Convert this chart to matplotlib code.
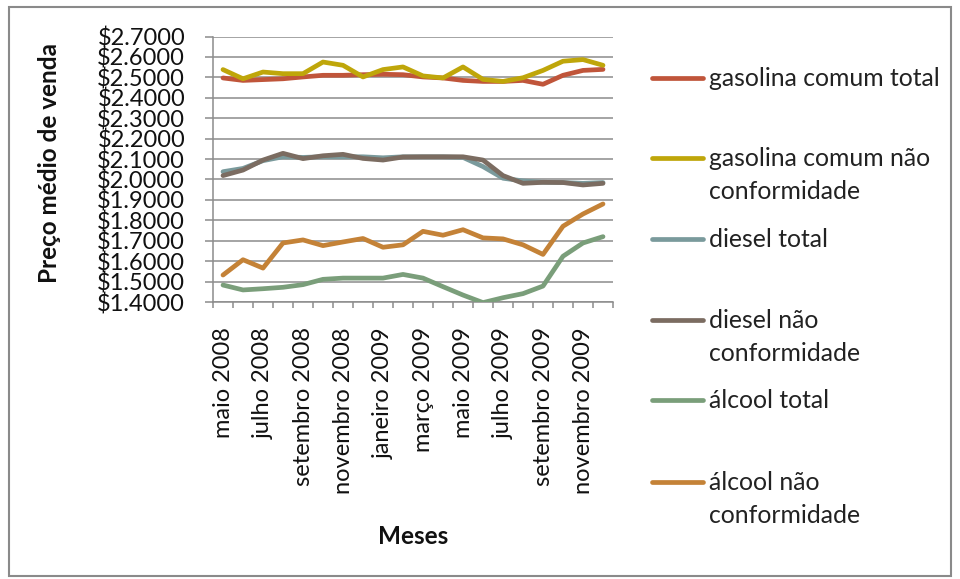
import matplotlib
matplotlib.use("Agg")
import matplotlib.pyplot as plt
from matplotlib.lines import Line2D
from matplotlib.patches import Rectangle
from matplotlib.ticker import MultipleLocator, FixedLocator, FuncFormatter

plt.rcParams['font.family'] = ['Lato', 'DejaVu Sans']

meses = ["maio 2008", "junho 2008", "julho 2008", "agosto 2008", "setembro 2008",
         "outubro 2008", "novembro 2008", "dezembro 2008", "janeiro 2009",
         "fevereiro 2009", "março 2009", "abril 2009", "maio 2009", "junho 2009",
         "julho 2009", "agosto 2009", "setembro 2009", "outubro 2009",
         "novembro 2009", "dezembro 2009"]

gasolina_total = [2.497, 2.485, 2.489, 2.493, 2.502, 2.510, 2.510, 2.513, 2.515, 2.513,
                  2.502, 2.497, 2.485, 2.480, 2.480, 2.485, 2.466, 2.510, 2.534, 2.539]
gasolina_nc = [2.538, 2.493, 2.526, 2.518, 2.518, 2.575, 2.559, 2.502, 2.538, 2.551,
               2.507, 2.497, 2.551, 2.490, 2.480, 2.498, 2.534, 2.579, 2.587, 2.559]
diesel_total = [2.038, 2.054, 2.092, 2.111, 2.108, 2.111, 2.111, 2.111, 2.106, 2.111,
                2.111, 2.111, 2.108, 2.063, 2.006, 1.993, 1.986, 1.985, 1.981, 1.985]
diesel_nc = [2.019, 2.046, 2.095, 2.128, 2.102, 2.116, 2.123, 2.103, 2.095, 2.110,
             2.111, 2.111, 2.111, 2.095, 2.019, 1.981, 1.986, 1.985, 1.973, 1.981]
alcool_total = [1.483, 1.459, 1.465, 1.472, 1.485, 1.511, 1.517, 1.517, 1.517, 1.535,
                1.517, 1.475, 1.434, 1.397, 1.421, 1.441, 1.478, 1.624, 1.689, 1.720]
alcool_nc = [1.532, 1.607, 1.566, 1.689, 1.704, 1.676, 1.694, 1.711, 1.668, 1.680,
             1.746, 1.727, 1.754, 1.714, 1.709, 1.680, 1.633, 1.771, 1.831, 1.880]

series_names = ["gasolina comum total", "gasolina comum não\nconformidade",
                "diesel total", "diesel não\nconformidade",
                "álcool total", "álcool não\nconformidade"]
series_values = [gasolina_total, gasolina_nc, diesel_total, diesel_nc,
                 alcool_total, alcool_nc]
colors = ["#C0553A", "#BFA60A", "#7A9A9C", "#7B6C61", "#7A9E7A", "#C48237"]

W, H = 960, 579
fig = plt.figure(figsize=(W / 100, H / 100), dpi=100)

# outer chart frame
fig.add_artist(Rectangle((9 / W, 1 - 576 / H), 942 / W, 569 / H, transform=fig.transFigure,
                         fill=False, edgecolor="#8a8a8a", linewidth=1.5))

ax = fig.add_axes([213 / W, 1 - 302 / H, 400 / W, 265.5 / H])

x = list(range(len(meses)))
for vals, col in zip(series_values, colors):
    ax.plot(x, vals, color=col, linewidth=3.4, solid_capstyle="round",
            solid_joinstyle="round", zorder=3)

ax.set_xlim(-0.5, len(meses) - 0.5)
ax.set_ylim(1.4, 2.7)
ax.yaxis.set_major_locator(MultipleLocator(0.1))
ax.yaxis.set_major_formatter(FuncFormatter(lambda v, p: f"${v:.4f}"))
ax.grid(axis="y", color="#8c8c8c", linewidth=1.1, zorder=0)

ax.xaxis.set_major_locator(FixedLocator(x[::2]))
ax.set_xticklabels(meses[::2], rotation=90, fontsize=17, color="#111111")
ax.xaxis.set_minor_locator(FixedLocator([i - 0.5 for i in range(len(meses) + 1)]))
ax.tick_params(axis="x", which="major", length=0, pad=18)
ax.tick_params(axis="x", which="minor", length=4.3, width=1.1, color="#8c8c8c", direction="out")
ax.tick_params(axis="y", length=5.8, width=1.1, color="#8c8c8c", labelsize=17,
               labelcolor="#111111", pad=14.2)

for s in ["top", "right"]:
    ax.spines[s].set_visible(False)
for s in ["left", "bottom"]:
    ax.spines[s].set_color("#8c8c8c")
    ax.spines[s].set_linewidth(1.1)

fig.text(50 / W, 1 - 163 / H, "Preço médio de venda", rotation=90, fontsize=17.5,
         fontweight="bold", ha="center", va="center", color="#111111")
fig.text(413 / W, 1 - 537 / H, "Meses", fontsize=17.5, fontweight="bold",
         ha="center", va="center", color="#111111")

# legend, drawn entry by entry
legend_y = [78, 158, 239, 320, 400, 482]
line_h = 33.5
for name, col, yy in zip(series_names, colors, legend_y):
    fig.add_artist(Line2D([652 / W, 703 / W], [1 - yy / H, 1 - yy / H],
                          transform=fig.transFigure, color=col, linewidth=3.4,
                          solid_capstyle="round"))
    for k, part in enumerate(name.split("\n")):
        fig.text(709 / W, 1 - (yy + k * line_h) / H, part, fontsize=17.8,
                 ha="left", va="center", color="#222222")

fig.savefig("out.png", dpi=100)
